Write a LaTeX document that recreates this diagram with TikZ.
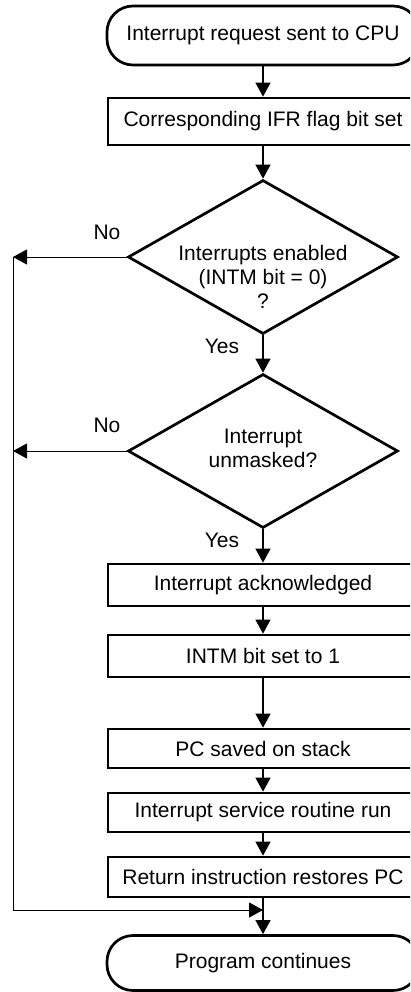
\documentclass[tikz,border=0pt]{standalone}
\usepackage{fontspec}
\setmainfont{Liberation Sans}
\usetikzlibrary{arrows.meta,shapes.geometric}
\begin{document}
\begin{tikzpicture}[x=1pt,y=-1pt,
  txt/.style={font=\fontsize{21}{24}\selectfont, inner sep=0pt, align=center},
  box/.style={txt, draw, line width=2.7pt, minimum width=310pt},
  term/.style={txt, draw, line width=2.7pt, minimum width=312pt, rounded corners=26pt},
  dia/.style={draw, diamond, line width=2.7pt, inner sep=0pt, minimum width=270pt, minimum height=154pt, shape aspect=1.75},
  arr/.style={-{Triangle[width=15pt,length=14pt]}, line width=1.1pt},
  thin/.style={line width=1pt}
]
\useasboundingbox (0,0) rectangle (410,992);
\clip (0,0) rectangle (410,992);

\node[term, minimum height=59pt] (t1) at (263,35.5) {Interrupt request sent to CPU};
\node[box, minimum height=47pt] (b1) at (263,121.5) {Corresponding IFR flag bit set};
\node[dia] (d1) at (263,257) {};
\node[txt] (d1t) at (263,277) {Interrupts enabled\\(INTM bit = 0)\\?};
\node[dia] (d2) at (263,451) {};
\node[txt] (d2t) at (263,448) {Interrupt\\unmasked?};
\node[box, minimum height=42pt] (b2) at (263,585) {Interrupt acknowledged};
\node[box, minimum height=42pt] (b3) at (263,656) {INTM bit set to 1};
\node[box, minimum height=39pt] (b4) at (263,748.5) {PC saved on stack};
\node[box, minimum height=39pt] (b5) at (263,812.5) {Interrupt service routine run};
\node[box, minimum height=40pt] (b6) at (263,877) {Return instruction restores PC};
\node[term, minimum height=55pt] (t2) at (263,963) {Program continues};

\node[txt] (no1) at (107,232) {No};
\node[txt] (no2) at (107,425) {No};
\node[txt] (yes1) at (222,346) {Yes};
\node[txt] (yes2) at (222,540) {Yes};

\coordinate (L1) at (13,257);
\coordinate (L2) at (13,451);
\coordinate (L3) at (13,910);
\coordinate (M) at (263,910);

\draw[arr] (t1) -- (b1);
\draw[arr] (b1) -- (d1);
\draw[arr] (d1) -- (d2);
\draw[arr] (d2) -- (b2);
\draw[arr] (b2) -- (b3);
\draw[arr] (b3) -- (b4);
\draw[arr] (b4) -- (b5);
\draw[arr] (b5) -- (b6);
\draw[arr] (b6) -- (t2);
\draw[arr, thin] (d1.west) -- (L1);
\draw[arr, thin] (d2.west) -- (L2);
\draw[thin] (L1) -- (L3);
\draw[arr, thin] (L3) -- (M);
\end{tikzpicture}
\end{document}
